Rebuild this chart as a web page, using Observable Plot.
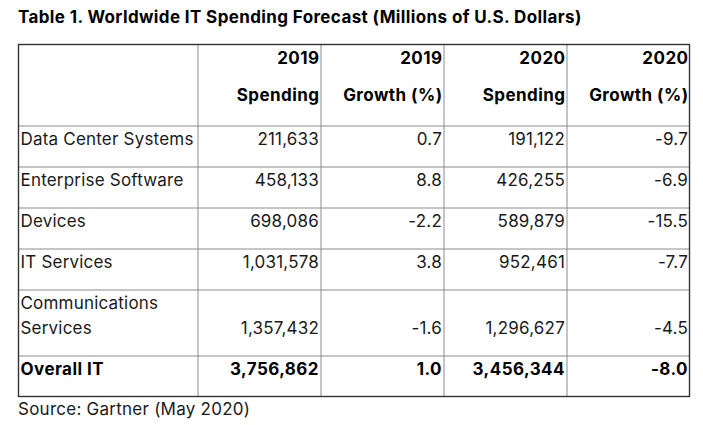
<!DOCTYPE html>
<html><head><meta charset="utf-8">
<script src="https://cdn.jsdelivr.net/npm/d3@7"></script>
<script src="https://cdn.jsdelivr.net/npm/@observablehq/plot@0.6"></script>
<style>
html,body{margin:0;padding:0;background:#fff}
body{width:703px;height:425px;overflow:hidden;position:relative;font-family:Inter,sans-serif}
#title{height:40px;box-sizing:border-box;padding:7px 0 0 18px;font:700 17px/20px Inter,sans-serif;letter-spacing:0.38px;color:#000;white-space:nowrap}
#chart svg{display:block}
#source{position:absolute;top:398.5px;left:18px;font:400 17px/20px Inter,sans-serif;letter-spacing:0.25px;color:#1a1a1a;white-space:nowrap}
</style></head><body>
<div id="title">Table 1. Worldwide IT Spending Forecast (Millions of U.S. Dollars)</div>
<div id="chart"></div>
<div id="source">Source: Gartner (May 2020)</div>
<script>
// ---- data ----
const headerYear = ["", "2019", "2019", "2020", "2020"];
const headerMeasure = ["", "Spending", "Growth (%)", "Spending", "Growth (%)"];
const segments = ["Data Center Systems", "Enterprise Software", "Devices", "IT Services", "Communications Services", "Overall IT"];
const spending2019 = [211633, 458133, 698086, 1031578, 1357432, 3756862];
const growth2019 = [0.7, 8.8, -2.2, 3.8, -1.6, 1.0];
const spending2020 = [191122, 426255, 589879, 952461, 1296627, 3456344];
const growth2020 = [-9.7, -6.9, -15.5, -7.7, -4.5, -8.0];
const totalRow = "Overall IT";

// ---- layout ----
const W = 703, H = 362;
const tableLeft = 18.5, tableTop = 4.5;
const firstColWidth = 179, colWidth = 123;
const headerHeight = 81, rowHeight = 41, extraLine = 25;
const rowLineCounts = [1, 1, 1, 1, 2, 1];

const colEdges = [tableLeft, tableLeft + firstColWidth];
for (let i = 0; i < 4; i++) colEdges.push(colEdges[colEdges.length - 1] + colWidth);
const rowEdges = [tableTop, tableTop + headerHeight];
rowLineCounts.forEach(n => rowEdges.push(rowEdges[rowEdges.length - 1] + rowHeight + extraLine * (n - 1)));
const tableRight = colEdges[colEdges.length - 1];
const tableBottom = rowEdges[rowEdges.length - 1];

const fmtSpend = v => v.toLocaleString("en-US");
const fmtGrowth = v => v.toFixed(1);
const wrapLabel = (s, n) => n > 1 ? s.replace(" ", "\n") : s;

// cells
const cells = [];
segments.forEach((s, i) => {
  const bottom = rowEdges[i + 2];
  const bold = s === totalRow;
  cells.push({text: wrapLabel(s, rowLineCounts[i]), x: colEdges[0] + 1.5, y: bottom - 21.8, anchor: "start", bold});
  const vals = [fmtSpend(spending2019[i]), fmtGrowth(growth2019[i]), fmtSpend(spending2020[i]), fmtGrowth(growth2020[i])];
  vals.forEach((t, j) => cells.push({text: t, x: colEdges[j + 2] - 2, y: bottom - 21.8, anchor: "end", bold}));
});
const headers = [];
headerYear.forEach((t, j) => { if (t) headers.push({text: t, x: colEdges[j + 1] - 1.5, y: rowEdges[1] - 62.2}); });
headerMeasure.forEach((t, j) => { if (t) headers.push({text: t, x: colEdges[j + 1] - 1.5, y: rowEdges[1] - 25.5}); });

const regStyle = {lineAnchor: "bottom", lineHeight: 1.47, fontSize: 17, fontFamily: "Inter", fill: "#1a1a1a"};
const boldStyle = {lineAnchor: "bottom", fontSize: 17, fontWeight: 700, fontFamily: "Inter", fill: "#000"};

const chart = Plot.plot({
  width: W, height: H, margin: 0,
  x: {type: "identity", axis: null},
  y: {type: "identity", axis: null},
  style: {background: "#fff"},
  marks: [
    Plot.ruleX(colEdges.slice(1, -1), {x: d => d, y1: tableTop, y2: tableBottom, stroke: "#8c8c8c", strokeWidth: 1}),
    Plot.ruleY(rowEdges.slice(1, -1), {y: d => d, x1: tableLeft, x2: tableRight, stroke: "#8c8c8c", strokeWidth: 1}),
    Plot.rect([0], {x1: tableLeft, x2: tableRight, y1: tableTop, y2: tableBottom, fill: "none", stroke: "#333", strokeWidth: 1.4}),
    Plot.text(cells.filter(d => !d.bold && d.anchor === "start"), {x: "x", y: "y", text: "text", textAnchor: "start", ...regStyle}),
    Plot.text(cells.filter(d => !d.bold && d.anchor === "end"), {x: "x", y: "y", text: "text", textAnchor: "end", ...regStyle}),
    Plot.text(cells.filter(d => d.bold && d.anchor === "start"), {x: "x", y: "y", text: "text", textAnchor: "start", ...boldStyle}),
    Plot.text(cells.filter(d => d.bold && d.anchor === "end"), {x: "x", y: "y", text: "text", textAnchor: "end", ...boldStyle}),
    Plot.text(headers, {x: "x", y: "y", text: "text", textAnchor: "end", ...boldStyle})
  ]
});
chart.querySelectorAll('g[font-weight="700"]').forEach(g => g.style.letterSpacing = "0.45px");
chart.querySelectorAll('g[font-size="17"]:not([font-weight])').forEach(g => g.style.letterSpacing = "0.2px");
document.getElementById("chart").appendChild(chart);
</script>
</body></html>
